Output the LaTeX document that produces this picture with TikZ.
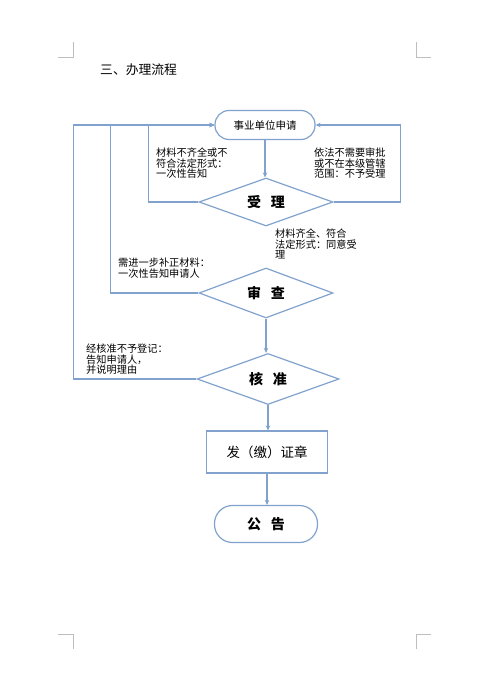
\documentclass[tikz,border=0pt]{standalone}
\usepackage{fontspec}
\newfontfamily\cjk{Noto Sans CJK SC}
\usetikzlibrary{arrows.meta,shapes.geometric}
\definecolor{flowblue}{RGB}{128,162,205}
\definecolor{markgray}{RGB}{190,190,190}
\begin{document}
\begin{tikzpicture}[
    x=1pt, y=-1pt,
    line/.style={draw=flowblue, line width=1.2pt},
    arrow/.style={line, -{Stealth[length=5pt,width=4.5pt]}},
    terminal/.style={line, rounded corners=14pt, inner sep=0pt, font=\cjk\fontsize{10.5}{12}\selectfont},
    decision/.style={line, diamond, aspect=2.8, inner sep=0pt, font=\cjk\bfseries\fontsize{14}{16}\selectfont},
    proc/.style={line, rectangle, inner sep=0pt, font=\cjk\fontsize{13.5}{15}\selectfont},
    note/.style={anchor=north west, inner sep=0pt, align=left, font=\cjk\fontsize{10.2}{10.5}\selectfont},
    corner/.style={draw=markgray, line width=0.8pt},
]
\useasboundingbox (0,0) rectangle (491,691);
% page corner marks
\draw[corner] (58,57) -- (73,57) -- (73,42);
\draw[corner] (431,57) -- (416,57) -- (416,42);
\draw[corner] (58,634) -- (73,634) -- (73,649);
\draw[corner] (431,634) -- (416,634) -- (416,649);
% title
\node[anchor=west, inner sep=0pt, font=\cjk\fontsize{12.8}{14}\selectfont] (title) at (100,70) {三、办理流程};
% flow
\node[terminal, minimum width=100pt, minimum height=29pt] (apply) at (265,125) {事业单位申请};
\node[decision, minimum width=134pt, minimum height=48pt] (accept) at (266,202) {受\hspace{0.7em}理};
\node[decision, minimum width=134pt, minimum height=50pt] (review) at (266,293) {审\hspace{0.7em}查};
\node[decision, minimum width=142pt, minimum height=51pt] (approve) at (268,379) {核\hspace{0.7em}准};
\node[proc, minimum width=121pt, minimum height=42pt] (issue) at (267,452) {发（缴）证章};
\node[terminal, rounded corners=18pt, minimum width=103pt, minimum height=37pt, font=\cjk\bfseries\fontsize{14}{16}\selectfont] (notice) at (266,524) {公\hspace{0.7em}告};
% notes
\node[note] (n1) at (156,148) {材料不齐全或不\\符合法定形式：\\一次性告知};
\node[note] (n2) at (314,148) {依法不需要审批\\或不在本级管辖\\范围：不予受理};
\node[note] (n3) at (275,229) {材料齐全、符合\\法定形式：同意受\\理};
\node[note] (n4) at (118,258) {需进一步补正材料：\\一次性告知申请人};
\node[note] (n5) at (86,344) {经核准不予登记：\\告知申请人，\\并说明理由};
% connectors
\draw[arrow] (apply.south) -- (apply.south |- accept.north);
\draw[arrow] (review.south) -- (review.south |- approve.north);
\draw[arrow] (approve.south) -- (approve.south |- issue.north);
\draw[arrow] (issue.south) -- (issue.south |- notice.north);
\draw[arrow] (accept.west) -- ++(-50,0) |- (apply.west);
\draw[arrow] (review.west) -- ++(-88,0) |- (apply.west);
\draw[arrow] (approve.west) -- ++(-123,0) |- (apply.west);
\draw[arrow] (accept.east) -- ++(67,0) |- (apply.east);
\end{tikzpicture}
\end{document}
